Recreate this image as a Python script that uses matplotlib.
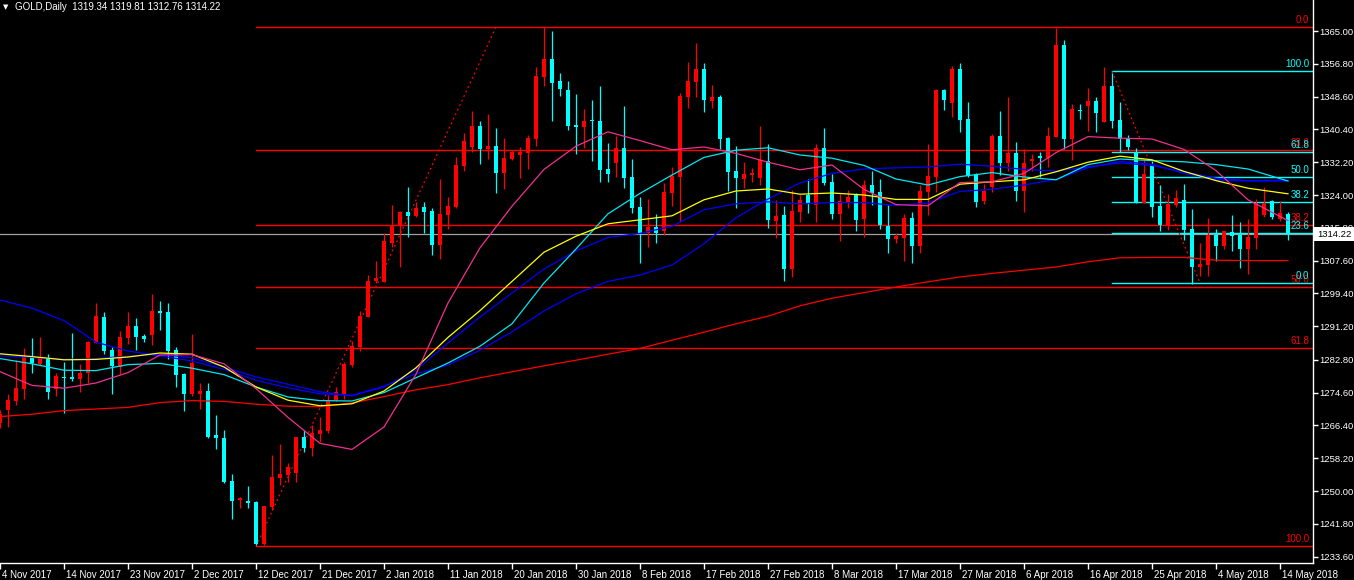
import numpy as np
import matplotlib
matplotlib.use("Agg")
import matplotlib.pyplot as plt
import matplotlib.transforms as mtransforms

# ----------------------------------------------------------------------
# datos: velas diarias GOLD (indice de barra 0..161)
# ----------------------------------------------------------------------
opens = [1267.0, 1270.25, 1272.6, 1275.6, 1283.4, 1281.75, 1283.1, 1275.4, 1278.6, 1278.4,
         1278.0, 1279.6, 1287.1, 1293.4, 1285.25, 1281.1, 1288.25, 1291.25, 1288.75, 1289.1,
         1295.0, 1294.75, 1285.25, 1279.25, 1274.25, 1274.3, 1274.9, 1264.0, 1263.3, 1252.5,
         1247.7, 1247.5, 1247.3, 1236.8, 1246.1, 1253.3, 1254.0, 1254.4, 1263.5, 1260.8,
         1264.35, 1265.0, 1272.75, 1274.0, 1281.5, 1286.1, 1293.6, 1302.4, 1302.35, 1312.1,
         1316.5, 1319.7, 1318.8, 1320.9, 1320.0, 1311.5, 1319.0, 1321.0, 1331.3, 1335.9,
         1341.25, 1335.5, 1336.25, 1329.6, 1333.0, 1334.0, 1334.6, 1338.1, 1353.6, 1358.0,
         1352.4, 1350.25, 1341.5, 1341.0, 1342.75, 1342.5, 1330.5, 1332.1, 1335.8, 1328.6,
         1321.1, 1314.4, 1316.1, 1314.9, 1324.4, 1328.6, 1348.6, 1352.35, 1355.5, 1347.6,
         1348.5, 1338.3, 1330.0, 1328.1, 1329.1, 1328.35, 1332.5, 1317.5, 1319.0, 1305.6,
         1319.75, 1324.0, 1321.5, 1335.85, 1327.25, 1319.25, 1322.25, 1324.0, 1318.0, 1326.5,
         1324.75, 1316.25, 1313.1, 1313.35, 1318.25, 1311.35, 1324.85, 1328.6, 1350.25, 1347.1,
         1355.5, 1343.0, 1329.25, 1322.6, 1326.1, 1338.75, 1332.1, 1334.4, 1325.1, 1332.4,
         1333.75, 1333.35, 1338.5, 1361.5, 1338.0, 1345.25, 1346.25, 1347.6, 1342.35, 1351.35,
         1342.85, 1338.0, 1334.4, 1322.1, 1331.6, 1321.35, 1316.5, 1321.5, 1322.75, 1315.5,
         1305.9, 1306.5, 1314.0, 1311.35, 1314.75, 1314.0, 1310.5, 1313.35, 1319.0, 1322.5,
         1317.9, 1319.34]
highs = [1270.25, 1274.25, 1282.75, 1285.75, 1288.25, 1288.4, 1284.25, 1279.6, 1282.25, 1289.4,
         1281.75, 1287.6, 1297.1, 1294.75, 1286.1, 1289.9, 1294.75, 1293.25, 1289.25, 1299.25,
         1297.4, 1296.9, 1285.9, 1279.4, 1289.25, 1276.9, 1276.9, 1269.0, 1265.25, 1254.25,
         1248.4, 1251.25, 1247.4, 1246.3, 1259.0, 1261.75, 1256.9, 1263.5, 1265.25, 1266.6,
         1268.6, 1274.0, 1276.1, 1282.35, 1287.6, 1294.9, 1304.0, 1307.6, 1314.4, 1321.5,
         1320.0, 1325.9, 1322.2, 1322.25, 1320.75, 1327.9, 1323.6, 1333.4, 1339.6, 1345.1,
         1342.6, 1344.25, 1340.75, 1338.25, 1335.25, 1336.1, 1339.0, 1356.0, 1366.1, 1365.0,
         1354.5, 1352.5, 1349.25, 1345.5, 1347.75, 1351.25, 1337.0, 1338.75, 1346.25, 1333.1,
         1323.6, 1322.9, 1319.25, 1326.9, 1331.1, 1349.6, 1357.25, 1361.9, 1357.1, 1351.5,
         1348.9, 1338.6, 1336.25, 1332.25, 1330.85, 1341.25, 1336.75, 1322.75, 1321.25, 1325.25,
         1324.0, 1328.0, 1336.75, 1340.75, 1329.35, 1324.25, 1325.25, 1324.6, 1327.75, 1330.1,
         1327.9, 1321.5, 1314.4, 1319.25, 1319.75, 1326.6, 1336.75, 1350.5, 1350.5, 1356.25,
         1357.1, 1347.25, 1329.4, 1326.65, 1339.25, 1345.1, 1348.4, 1337.25, 1335.4, 1334.15,
         1334.75, 1341.0, 1365.75, 1362.75, 1346.75, 1346.75, 1350.65, 1348.6, 1355.9, 1354.6,
         1347.35, 1339.0, 1335.65, 1332.75, 1332.6, 1326.5, 1324.25, 1325.25, 1326.75, 1320.5,
         1311.9, 1318.15, 1315.5, 1315.1, 1319.0, 1317.35, 1318.0, 1322.9, 1326.1, 1322.75,
         1322.5, 1319.81]
lows = [1265.75, 1265.9, 1271.5, 1273.1, 1279.6, 1281.5, 1273.1, 1273.75, 1269.6, 1277.4,
        1274.8, 1277.1, 1286.9, 1284.25, 1274.25, 1279.25, 1286.75, 1285.25, 1287.35, 1286.6,
        1290.25, 1282.9, 1276.1, 1270.1, 1273.75, 1270.6, 1263.25, 1260.6, 1252.0, 1243.1,
        1245.8, 1245.8, 1236.5, 1236.5, 1245.25, 1251.4, 1252.3, 1252.3, 1259.8, 1258.8,
        1262.3, 1264.6, 1272.6, 1273.0, 1281.1, 1285.1, 1293.4, 1302.1, 1302.2, 1311.1,
        1305.9, 1313.6, 1318.4, 1314.4, 1308.9, 1308.1, 1315.6, 1320.65, 1330.0, 1334.8,
        1331.75, 1333.1, 1324.4, 1325.6, 1332.75, 1328.35, 1330.6, 1336.35, 1351.3, 1342.6,
        1348.75, 1340.25, 1334.25, 1335.75, 1332.6, 1327.25, 1327.25, 1328.6, 1325.85, 1319.6,
        1306.9, 1311.1, 1311.9, 1314.1, 1321.25, 1317.35, 1345.85, 1348.6, 1344.85, 1345.85,
        1335.5, 1325.0, 1320.85, 1325.85, 1327.35, 1326.4, 1315.85, 1313.35, 1302.6, 1303.5,
        1317.35, 1319.5, 1317.35, 1326.5, 1318.0, 1312.6, 1320.85, 1315.0, 1313.6, 1321.4,
        1315.6, 1309.6, 1312.1, 1307.6, 1307.1, 1309.4, 1319.0, 1324.85, 1345.25, 1343.5,
        1339.75, 1328.6, 1321.1, 1321.75, 1324.75, 1329.0, 1330.1, 1322.5, 1319.65, 1330.1,
        1328.6, 1331.1, 1338.4, 1335.5, 1332.75, 1342.9, 1340.1, 1339.85, 1342.3, 1340.85,
        1334.85, 1335.25, 1322.0, 1322.0, 1318.6, 1315.1, 1315.35, 1321.1, 1312.75, 1301.65,
        1303.75, 1303.75, 1307.6, 1310.4, 1310.1, 1305.85, 1304.15, 1310.6, 1318.6, 1317.9,
        1317.6, 1312.76]
closes = [1269.25, 1272.75, 1275.75, 1283.4, 1282.1, 1283.4, 1274.8, 1278.75, 1278.3, 1278.1,
          1279.6, 1287.25, 1293.75, 1285.1, 1281.25, 1288.4, 1291.25, 1288.6, 1288.1, 1294.9,
          1294.6, 1284.9, 1279.1, 1274.25, 1282.1, 1274.9, 1263.6, 1263.2, 1252.25, 1247.5,
          1248.3, 1247.1, 1236.8, 1246.25, 1253.5, 1254.25, 1256.0, 1263.5, 1260.8, 1264.5,
          1265.25, 1272.75, 1274.8, 1281.75, 1286.25, 1293.75, 1302.5, 1303.25, 1312.5, 1316.4,
          1319.8, 1318.8, 1320.75, 1319.8, 1311.5, 1319.25, 1321.25, 1331.5, 1337.5, 1341.25,
          1335.5, 1336.25, 1329.6, 1333.25, 1334.75, 1334.75, 1338.25, 1353.75, 1358.0, 1352.1,
          1350.6, 1341.35, 1341.0, 1342.5, 1342.4, 1330.35, 1329.35, 1335.8, 1328.35, 1320.8,
          1314.4, 1316.1, 1314.4, 1324.75, 1328.75, 1348.85, 1352.5, 1355.5, 1347.75, 1348.6,
          1338.1, 1329.75, 1328.35, 1329.25, 1329.3, 1332.75, 1317.75, 1318.75, 1305.6, 1320.0,
          1322.75, 1321.75, 1335.85, 1327.0, 1319.25, 1322.5, 1323.6, 1317.75, 1326.5, 1324.6,
          1316.5, 1313.1, 1313.75, 1318.25, 1311.35, 1325.0, 1328.85, 1350.25, 1347.75, 1355.5,
          1342.85, 1328.85, 1322.35, 1325.1, 1338.75, 1332.1, 1334.4, 1325.1, 1332.1, 1333.0,
          1333.35, 1338.75, 1361.5, 1338.0, 1345.5, 1345.0, 1347.6, 1344.6, 1351.35, 1342.6,
          1338.0, 1336.0, 1322.1, 1329.25, 1321.1, 1316.5, 1321.85, 1323.35, 1315.25, 1305.9,
          1306.75, 1314.0, 1311.35, 1315.0, 1313.85, 1310.5, 1313.6, 1322.1, 1322.1, 1318.6,
          1319.6, 1314.22]

date_labels = ['4 Nov 2017', '14 Nov 2017', '23 Nov 2017', '2 Dec 2017', '12 Dec 2017',
               '21 Dec 2017', '2 Jan 2018', '11 Jan 2018', '20 Jan 2018', '30 Jan 2018',
               '8 Feb 2018', '17 Feb 2018', '27 Feb 2018', '8 Mar 2018', '17 Mar 2018',
               '27 Mar 2018', '6 Apr 2018', '16 Apr 2018', '25 Apr 2018', '4 May 2018',
               '14 May 2018']

price_ticks = [1233.60, 1241.80, 1250.00, 1258.20, 1266.40, 1274.60, 1282.80, 1291.20,
               1299.40, 1307.60, 1315.80, 1324.00, 1332.20, 1340.40, 1348.60, 1356.80,
               1365.00]

# medias moviles (cada 4 barras)
ma_bars = [0, 4, 8, 12, 16, 20, 24, 28, 32, 36, 40, 44, 48, 52, 56, 60, 64, 68, 72, 76, 80,
           84, 88, 92, 96, 100, 104, 108, 112, 116, 120, 124, 128, 132, 136, 140, 144, 148,
           152, 156, 161]
ma_pink = [1279.85, 1276.4, 1275.7, 1277.0, 1279.6, 1284.0, 1284.1, 1281.8, 1275.6, 1268.4,
           1261.9, 1260.4, 1266.0, 1279.2, 1297.0, 1310.8, 1321.2, 1330.4, 1336.2, 1339.8,
           1337.6, 1335.3, 1336.0, 1334.4, 1332.2, 1330.3, 1331.5, 1325.4, 1321.6, 1321.3,
           1327.1, 1327.3, 1329.4, 1334.6, 1338.6, 1338.2, 1338.0, 1335.4, 1330.1, 1322.8,
           1317.6]
ma_cyan = [1283.1, 1281.8, 1280.2, 1280.1, 1281.6, 1281.9, 1280.7, 1279.1, 1276.0, 1273.5,
           1272.6, 1272.5, 1274.6, 1278.3, 1282.0, 1286.2, 1291.8, 1302.0, 1310.5, 1319.3,
           1324.4, 1329.0, 1333.4, 1335.2, 1335.8, 1334.0, 1333.2, 1331.4, 1328.0, 1326.5,
           1328.6, 1329.6, 1328.5, 1327.8, 1331.6, 1333.0, 1332.6, 1332.3, 1331.6, 1330.5,
           1327.5]
ma_yellow = [1284.3, 1283.6, 1282.8, 1282.9, 1283.5, 1284.5, 1284.2, 1281.0, 1276.0, 1272.7,
             1271.3, 1271.8, 1275.0, 1280.8, 1288.4, 1295.1, 1302.4, 1309.7, 1313.7, 1316.8,
             1317.8, 1318.8, 1322.8, 1325.0, 1325.5, 1324.2, 1324.5, 1324.0, 1322.9, 1322.9,
             1326.7, 1327.3, 1327.8, 1329.8, 1332.2, 1333.7, 1332.8, 1329.9, 1327.6, 1325.7,
             1324.3]
ma_blue_fast = [1283.8, 1283.4, 1282.9, 1283.1, 1283.7, 1284.2, 1283.3, 1281.0, 1278.5, 1276.7,
                1274.8, 1273.8, 1276.0, 1280.3, 1287.0, 1293.5, 1299.5, 1305.5, 1310.0, 1313.4,
                1314.4, 1316.2, 1320.3, 1321.8, 1322.3, 1321.8, 1322.1, 1322.1, 1321.4, 1322.0,
                1324.9, 1325.4, 1326.5, 1327.9, 1330.8, 1332.4, 1331.7, 1329.4, 1327.8, 1327.5,
                1327.5]
ma_blue_slow = [1297.75, 1295.7, 1292.6, 1287.2, 1285.0, 1283.8, 1282.5, 1280.4, 1277.7, 1275.8,
                1274.3, 1273.9, 1276.2, 1279.3, 1281.5, 1285.2, 1289.8, 1295.0, 1299.3, 1302.4,
                1304.0, 1306.5, 1311.8, 1318.3, 1323.0, 1327.0, 1329.4, 1330.5, 1330.8, 1331.0,
                1331.7, 1331.2, 1330.4, 1330.0, 1331.0, 1332.0, 1331.4, 1329.8, 1328.2, 1327.6,
                1327.7]
ma_red = [1268.6, 1269.2, 1270.1, 1270.5, 1270.9, 1272.1, 1272.6, 1272.4, 1271.7, 1271.2,
          1271.1, 1272.0, 1273.6, 1275.3, 1276.6, 1278.3, 1279.8, 1281.3, 1282.7, 1284.2,
          1285.65, 1287.7, 1289.7, 1291.8, 1293.7, 1296.3, 1298.2, 1299.6, 1301.0, 1302.3,
          1303.5, 1304.4, 1305.2, 1306.0, 1307.3, 1308.3, 1308.4, 1308.4, 1307.7, 1307.6,
          1307.6]

# fibonacci: (barra, precio) de los dos anclajes
fib_levels = [0.0, 23.6, 38.2, 50.0, 61.8, 100.0]
fib_red_anchor = [(32, 1236.2), (62, 1366.0)]
fib_cyan_anchor = [(139, 1354.9), (150, 1302.0)]

header = "GOLD,Daily  1319.34 1319.81 1312.76 1314.22"
last_price = 1314.22

# ----------------------------------------------------------------------
FONT = "Liberation Sans"
W, H = 1354, 580
PLOT_R, PLOT_B = 1313, 563

fig = plt.figure(figsize=(W / 100, H / 100), dpi=100, facecolor="black")
ax = fig.add_axes([0, (H - PLOT_B) / H, PLOT_R / W, PLOT_B / H])
ax.set_facecolor("black")

# escala: 4 px por dolar, 8 px por barra
ax.set_ylim(1365 - (PLOT_B - 31) / 4.0, 1365 + 31 / 4.0)
ax.set_xlim(0, PLOT_R / 8.0)

n = len(closes)
idx = np.arange(n)
o = np.array(opens); h = np.array(highs); l = np.array(lows); c = np.array(closes)
cols = np.where(c > o, "#ff0000", "#00ffff")

# linea de precio actual
ax.axhline(last_price, color="#a0a0a0", lw=0.9, zorder=1)

# fibonacci rojo
(b0, p0), (b1, p1) = fib_red_anchor
for lv in fib_levels:
    y = p1 - (p1 - p0) * lv / 100.0
    ax.plot([b0, PLOT_R / 8.0], [y, y], color="#ff0000", lw=1.0, zorder=1)
    ax.text(1309 / 8.0, y + 0.5, "%.1f" % lv, color="#ff0000", fontsize=7, family=FONT,
            ha="right", va="bottom", zorder=2)
ax.plot([b0, b1], [p0, p1], color="#ff0000", lw=0.9, ls=(0, (1.5, 2.5)), zorder=1)

# fibonacci cian
(b0, p0), (b1, p1) = fib_cyan_anchor
for lv in fib_levels:
    y = p1 + (p0 - p1) * lv / 100.0
    ax.plot([b0, PLOT_R / 8.0], [y, y], color="#00ffff", lw=1.0, zorder=1.5)
    ax.text(1309 / 8.0, y + 0.5, "%.1f" % lv, color="#00ffff", fontsize=7, family=FONT,
            ha="right", va="bottom", zorder=2.5)
ax.plot([b0, b1], [p0, p1], color="#ff0000", lw=0.9, ls=(0, (1.5, 2.5)), zorder=1.5)

# velas
ax.vlines(idx, l, h, colors=cols, lw=0.9, zorder=3)
body_lo = np.minimum(o, c)
body_h = np.maximum(np.abs(c - o), 0.3)
ax.bar(idx, body_h, bottom=body_lo, width=0.62, color=cols, linewidth=0, zorder=3)

# medias moviles
ma_list = [(ma_red, "#ff0000"), (ma_blue_slow, "#0000ff"), (ma_blue_fast, "#0000ff"),
           (ma_cyan, "#00e8f0"), (ma_yellow, "#ffff00"), (ma_pink, "#f0308f")]
for vals, col in ma_list:
    ax.plot(ma_bars, vals, color=col, lw=0.9, zorder=4)

# ejes
for s in ["top", "left"]:
    ax.spines[s].set_visible(False)
for s in ["bottom", "right"]:
    ax.spines[s].set_color("white")
    ax.spines[s].set_linewidth(1.0)

ax.set_yticks(price_ticks)
ax.set_yticklabels(["%.2f" % v for v in price_ticks])
ax.yaxis.tick_right()
ax.tick_params(axis="y", colors="white", length=3.5, width=1, pad=1.2, labelsize=6.8)
for t in ax.get_yticklabels():
    t.set_family(FONT)

ax.set_xticks(np.arange(len(date_labels)) * 8)
ax.set_xticklabels(date_labels)
ax.tick_params(axis="x", colors="white", length=4, width=1, pad=1, labelsize=7)
offset = mtransforms.ScaledTranslation(0.025, 0, fig.dpi_scale_trans)
for t in ax.get_xticklabels():
    t.set_family(FONT)
    t.set_ha("left")
    t.set_transform(t.get_transform() + offset)

# caja del ultimo precio
trans = mtransforms.blended_transform_factory(ax.transAxes, ax.transData)
ax.text(1.003, last_price, "%.2f" % last_price, transform=trans, color="black", fontsize=6.8,
        family=FONT, ha="left", va="center", clip_on=False, zorder=10,
        bbox=dict(facecolor="white", edgecolor="none", boxstyle="square,pad=0.3"))

# cabecera
fig.text(3 / W, 1 - 7 / H, "\u25bc", color="white", fontsize=5, family="DejaVu Sans",
         va="center", ha="left")
fig.text(15 / W, 1 - 7 / H, header, color="white", fontsize=7, family=FONT,
         va="center", ha="left")

fig.savefig("out.png", dpi=100, facecolor="black")
